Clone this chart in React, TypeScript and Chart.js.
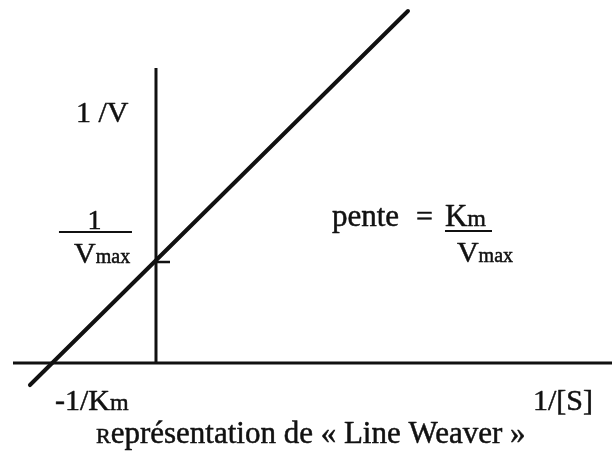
import { useEffect, useRef } from "react";
import { Chart, registerables } from "chart.js";

Chart.register(...registerables);

// ---- data (units: x = 1/[S] with Km = 1, y = 1/V with Vmax = 1) ----
const X_RANGE = [-1.5, 4.385];
const Y_RANGE = [-0.881, 3.594];

const lineX = [-1.212, 2.423]; // Lineweaver-Burk straight line
const lineY = [-0.218, 3.485];

const abscissaX = [-1.375, 4.385]; // 1/[S] axis (y = 0)
const ordinateY = [0, 2.92]; // 1/V axis (x = 0)

const interceptValue = 1; // 1/Vmax
const interceptTickX = [0, 0.135];

// ---- annotation texts (anchored in data coordinates) ----
type Run = { t: string; s: number };
type Label = { runs: Run[]; x: number; y: number; center?: boolean };

const LABELS: Label[] = [
  { runs: [{ t: "1 /V", s: 30 }], x: -0.769, y: 2.386 },
  { runs: [{ t: "1", s: 28 }], x: -0.591, y: 1.327, center: true },
  { runs: [{ t: "V", s: 30 }, { t: "max", s: 20 }], x: -0.788, y: 0.99 },
  { runs: [{ t: "pente", s: 31 }], x: 1.692, y: 1.356 },
  { runs: [{ t: "=", s: 30 }], x: 2.5, y: 1.356 },
  { runs: [{ t: "K", s: 31 }, { t: "m", s: 24 }], x: 2.779, y: 1.356 },
  { runs: [{ t: "V", s: 30 }, { t: "max", s: 20 }], x: 2.894, y: 1.0 },
  { runs: [{ t: "-1/K", s: 30 }, { t: "m", s: 24 }], x: -0.971, y: -0.465 },
  { runs: [{ t: "1/[S]", s: 30 }], x: 3.625, y: -0.465 },
  {
    runs: [
      { t: "R", s: 22 },
      { t: "eprésentation de « Line Weaver »", s: 31 },
    ],
    x: -0.577,
    y: -0.792,
  },
];

// fraction bars / underline: [x0, x1, y]
const RULES: number[][] = [
  [-0.933, -0.231, 1.297],
  [2.779, 3.231, 1.307],
];

const FONT = '"Liberation Serif", "Times New Roman", serif';
const INK = "#111";

const textPlugin = {
  id: "lwText",
  afterDatasetsDraw(chart: any) {
    const ctx: CanvasRenderingContext2D = chart.ctx;
    const xs = chart.scales.x;
    const ys = chart.scales.y;
    ctx.save();
    ctx.fillStyle = INK;
    ctx.strokeStyle = INK;
    ctx.textBaseline = "alphabetic";
    ctx.textAlign = "left";
    ctx.lineJoin = "round";
    ctx.lineWidth = 0.5;
    for (const lab of LABELS) {
      let w = 0;
      for (const r of lab.runs) {
        ctx.font = `${r.s}px ${FONT}`;
        w += ctx.measureText(r.t).width;
      }
      let cx = xs.getPixelForValue(lab.x) - (lab.center ? w / 2 : 0);
      const base = ys.getPixelForValue(lab.y);
      for (const r of lab.runs) {
        ctx.font = `${r.s}px ${FONT}`;
        ctx.fillText(r.t, cx, base);
        ctx.strokeText(r.t, cx, base);
        cx += ctx.measureText(r.t).width;
      }
    }
    ctx.lineWidth = 1.8;
    for (const [a, b, y] of RULES) {
      const py = ys.getPixelForValue(y);
      ctx.beginPath();
      ctx.moveTo(xs.getPixelForValue(a), py);
      ctx.lineTo(xs.getPixelForValue(b), py);
      ctx.stroke();
    }
    ctx.restore();
  },
};

export default function App() {
  const ref = useRef<HTMLCanvasElement | null>(null);

  useEffect(() => {
    document.body.style.margin = "0";
    const canvas = ref.current;
    if (!canvas) return;
    const seg = (xa: number[], ya: number[]) => xa.map((x, i) => ({ x, y: ya[i] }));
    const chart = new Chart(canvas, {
      type: "scatter",
      data: {
        datasets: [
          {
            data: seg(abscissaX, [0, 0]),
            showLine: true,
            borderColor: INK,
            borderWidth: 3,
            pointRadius: 0,
            borderCapStyle: "butt",
          },
          {
            data: seg([0, 0], ordinateY),
            showLine: true,
            borderColor: INK,
            borderWidth: 3,
            pointRadius: 0,
            borderCapStyle: "butt",
          },
          {
            data: seg(interceptTickX, [interceptValue, interceptValue]),
            showLine: true,
            borderColor: INK,
            borderWidth: 2.5,
            pointRadius: 0,
            borderCapStyle: "butt",
          },
          {
            data: seg(lineX, lineY),
            showLine: true,
            borderColor: INK,
            borderWidth: 4,
            pointRadius: 0,
            borderCapStyle: "round",
          },
        ],
      },
      options: {
        responsive: false,
        animation: false,
        layout: { padding: 0 },
        plugins: {
          legend: { display: false },
          tooltip: { enabled: false },
          title: { display: false },
        },
        scales: {
          x: { type: "linear", min: X_RANGE[0], max: X_RANGE[1], display: false },
          y: { type: "linear", min: Y_RANGE[0], max: Y_RANGE[1], display: false },
        },
      },
      plugins: [textPlugin],
    } as any);
    return () => chart.destroy();
  }, []);

  return <canvas ref={ref} width={612} height={452} style={{ display: "block" }} />;
}
